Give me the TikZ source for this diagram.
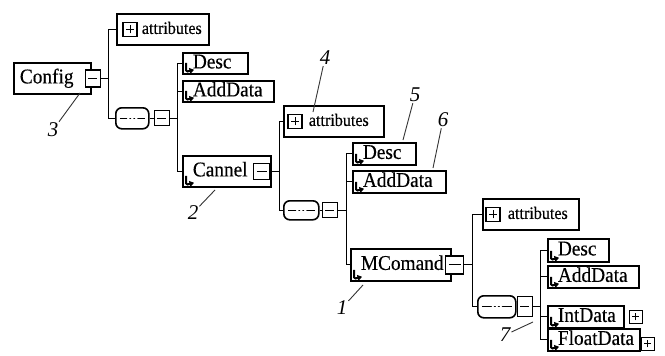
\documentclass[tikz,border=0pt]{standalone}
\usepackage{fontspec}
\setmainfont{Liberation Serif}
\newfontfamily\boxfamily{Liberation Serif}[FakeStretch=0.92,FakeBold=0.3]
\usetikzlibrary{arrows.meta,shadows}

\newcommand{\elfont}{\boxfamily\fontsize{21}{23}\selectfont}
\newcommand{\atfont}{\boxfamily\fontsize{17.5}{19}\selectfont}
\newcommand{\numfont}{\fontsize{21}{23}\selectfont\itshape}

\tikzstyle{elem}=[draw,line width=1.8pt,fill=white,anchor=north west,inner xsep=3pt,inner ysep=0pt,
  align=left,font=\elfont,text height=14pt,text depth=4pt,
  drop shadow={shadow xshift=1.4pt,shadow yshift=-1.4pt,opacity=1,fill=black}]
\tikzstyle{attrbox}=[elem,font=\atfont,text height=12pt,text depth=3pt,minimum height=31pt]
\tikzstyle{minusbox}=[draw,line width=1.2pt,fill=white,minimum size=15pt,inner sep=0pt,
  path picture={\draw[line width=0.9pt] ([xshift=3pt]path picture bounding box.west) -- ([xshift=-3pt]path picture bounding box.east);}]
\tikzstyle{plusbox}=[draw,line width=1.2pt,fill=white,minimum size=14pt,inner sep=0pt,
  path picture={\draw[line width=1pt] ([xshift=3pt]path picture bounding box.west) -- ([xshift=-3pt]path picture bounding box.east);
                \draw[line width=1pt] ([yshift=3pt]path picture bounding box.south) -- ([yshift=-3pt]path picture bounding box.north);}]
\tikzstyle{seqbox}=[draw,line width=1.6pt,fill=white,rounded corners=6pt,anchor=north west,inner sep=0pt,
  path picture={\draw[line width=1pt] ([xshift=4pt]path picture bounding box.west) -- ([xshift=-4pt]path picture bounding box.east);
                \foreach \dx in {-4,0,4} \fill ([xshift=\dx pt]path picture bounding box.center) circle (1.3pt);}]
\tikzstyle{link}=[draw,line width=1pt]
\tikzstyle{hook}=[line width=2pt,rounded corners=1.5pt,-{Triangle[length=4.5pt,width=6pt]}]
\tikzstyle{callout}=[font=\numfont,inner sep=1pt]
\tikzstyle{calline}=[draw,line width=0.9pt,black!80]

\begin{document}
\begin{tikzpicture}[x=1pt,y=-1pt]
    \useasboundingbox (0,0) rectangle (665,356);
    % root element and its content model
    \node[elem,text width=71pt,minimum height=31pt] (config) at (13,62) {\hspace*{3pt}Config};
    \node[minusbox,minimum height=17pt] (configm) at ([xshift=1pt]config.east) {};
    \node[attrbox,text width=86pt] (attr1) at (116,13) {\hspace*{22pt}attributes};
    \node[plusbox] (attr1p) at ([xshift=14pt]attr1.west) {};
    \node[seqbox,minimum width=33pt,minimum height=21pt] (seq1) at (115,107) {};
    \node[minusbox,anchor=west] (seq1m) at ([xshift=4pt]seq1.east) {};
    % second level
    \node[attrbox,text width=94pt] (attr2) at (283,105) {\hspace*{22pt}attributes};
    \node[plusbox] (attr2p) at ([xshift=12pt]attr2.west) {};
    \node[seqbox,minimum width=35pt,minimum height=19pt] (seq2) at (283,200) {};
    \node[minusbox,anchor=west] (seq2m) at ([xshift=2pt]seq2.east) {};
    % third level
    \node[attrbox,text width=90pt] (attr3) at (482,198) {\hspace*{22pt}attributes};
    \node[plusbox] (attr3p) at ([xshift=11pt]attr3.west) {};
    \node[seqbox,minimum width=38pt,minimum height=22pt] (seq3) at (477,295) {};
    \node[minusbox,anchor=west,minimum height=20pt] (seq3m) at (seq3.east) {};
    % the elements
    \foreach \pos/\name/\w/\h/\txt in {{(182,52)/desc1/59/21/Desc}, {(182,80)/add1/85/21/AddData},
        {(182,155)/cannel/82/31/Cannel}, {(352,142)/desc2/57/22/Desc}, {(352,170)/add2/87/22/AddData},
        {(350,248)/mcomand/94/32/MComand}, {(547,238)/desc3/55/23/Desc}, {(547,265)/add3/85/22/AddData},
        {(547,305)/intd/70/22/IntData}, {(547,328)/floatd/86/22/FloatData}}
        \node[elem,text width=\w pt,minimum height=\h pt] (\name) at \pos {\hspace*{7pt}\txt};
    \foreach \name in {desc1,add1,cannel,desc2,add2,mcomand,desc3,add3,intd,floatd}
        \draw[hook] ([shift={(4pt,12pt)}]\name.south west) -- ([shift={(4pt,3pt)}]\name.south west)
            -- ([shift={(12pt,5pt)}]\name.south west);
    \node[minusbox,minimum size=16pt] (cannelm) at ([xshift=-10pt]cannel.east) {};
    \node[minusbox,minimum size=18pt] (mcomandm) at ([xshift=3pt]mcomand.east) {};
    \node[plusbox,minimum size=13pt] (intdp) at ([xshift=11pt]intd.east) {};
    \node[plusbox,minimum size=13pt] (floatdp) at ([xshift=7pt,yshift=-4pt]floatd.east) {};
    % connectors
    \draw[link] (configm.east) -- ++(8,0) coordinate (tr1);
    \draw[link] (attr1.west) -| (tr1) |- (seq1.west);
    \draw[link] (seq1.east) -- (seq1m.west);
    \draw[link] (seq1m.east) -- ++(8,0) coordinate (tr2);
    \foreach \c in {desc1,add1,cannel}
        \draw[link] (tr2) |- (\c.west);
    \draw[link] (cannelm.east) -- ++(9,0) coordinate (tr3);
    \draw[link] (attr2.west) -| (tr3) |- (seq2.west);
    \draw[link] (seq2.east) -- (seq2m.west);
    \draw[link] (seq2m.east) -- ++(9,0) coordinate (tr4);
    \foreach \c in {desc2,add2,mcomand}
        \draw[link] (tr4) |- (\c.west);
    \draw[link] (mcomandm.east) -- ++(8,0) coordinate (tr5);
    \draw[link] (attr3.west) -| (tr5) |- (seq3.west);
    \draw[link] (seq3m.east) -- ++(8,0) coordinate (tr6);
    \foreach \c in {desc3,add3,intd,floatd}
        \draw[link] (tr6) |- (\c.west);
    % numbered callouts
    \node[callout] (num1) at (342,308) {1};
    \node[callout] (num2) at (193,213) {2};
    \node[callout] (num3) at (53,130) {3};
    \node[callout] (num4) at (325,58) {4};
    \node[callout] (num5) at (415,95) {5};
    \node[callout] (num6) at (443,120) {6};
    \node[callout] (num7) at (505,335) {7};
    \coordinate (tip1) at (363,285);
    \coordinate (tip2) at (215,190);
    \coordinate (tip3) at (80,93);
    \coordinate (tip4) at (313,112);
    \coordinate (tip5) at (403,140);
    \coordinate (tip6) at (433,168);
    \coordinate (tip7) at (533,322);
    \foreach \n in {1,...,7}
        \draw[calline] (num\n) -- (tip\n);
\end{tikzpicture}
\end{document}
